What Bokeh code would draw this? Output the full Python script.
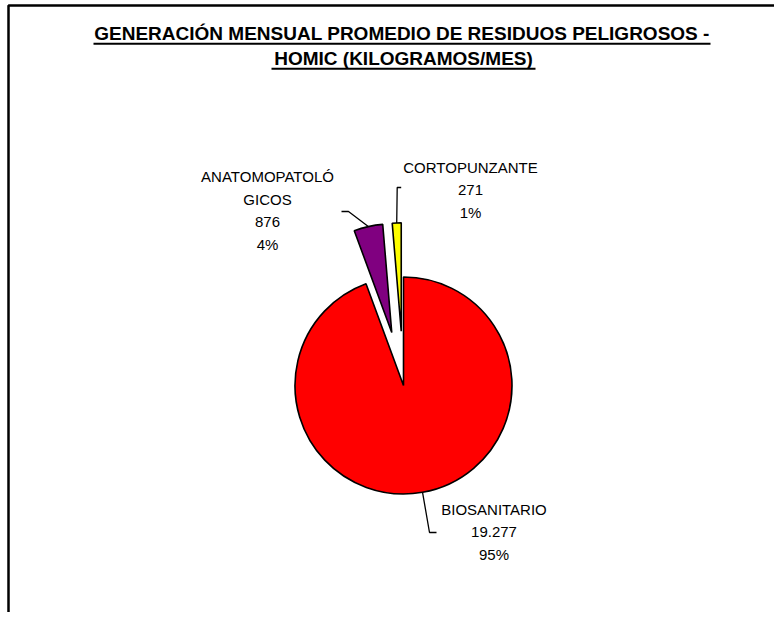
import math
from bokeh.plotting import figure
from bokeh.models import Range1d, ColumnDataSource
from bokeh.core.properties import value
from bokeh.embed import file_html
from bokeh.resources import INLINE

# ---------------- data ----------------
categories = ["BIOSANITARIO", "ANATOMOPATOLÓGICOS", "CORTOPUNZANTE"]
kg_per_month = [19277, 876, 271]
pct_labels = ["95%", "4%", "1%"]
name_lines = [["BIOSANITARIO"], ["ANATOMOPATOLÓ", "GICOS"], ["CORTOPUNZANTE"]]
title_lines = ["GENERACIÓN MENSUAL PROMEDIO DE RESIDUOS PELIGROSOS -",
               "HOMIC (KILOGRAMOS/MES)"]

# ---------------- style / layout ----------------
colors = ["#FF0000", "#800080", "#FFFF00"]
explode = [0.0, 0.5, 0.5]
W, H = 774, 612
ORIGIN = 0                 # where the canvas lands in the picture
CX, CY = 403, 385          # picture pixel position of pie centre
R = 108.5                  # pie radius in pixels
FONT = "Liberation Sans"
LINE_STEP = 22.5
BASE_FIX = 0.39            # text baseline correction (fraction of font size)
label_anchor = [(493.5, 515), (267, 182), (470, 172.5)]
label_elbow = [(429, 532), (348, 211), (396.7, 187)]
label_tail = [(436, 532), (341, 211), (400.7, 187)]
title_pos = [(401.5, 40.7, 617), (403, 65.7, 264)]   # centre x, baseline y, width
BORDER_X, BORDER_Y = 8, 5


def dx(px):
    return (px - CX) / R


def dy(py):
    return (CY - py) / R


p = figure(width=W, height=H, title=None,
           x_range=Range1d(dx(ORIGIN), dx(ORIGIN + W)),
           y_range=Range1d(dy(ORIGIN + H), dy(ORIGIN)),
           output_backend="svg", toolbar_location=None, min_border=0,
           x_axis_location=None, y_axis_location=None)
p.grid.visible = False
p.outline_line_color = None
p.background_fill_color = "white"
p.border_fill_color = "white"

# chart-area border (top & left; the box extends beyond the view)
p.line(x=[dx(BORDER_X), dx(BORDER_X), dx(ORIGIN + W + 10)],
       y=[dy(ORIGIN + H + 10), dy(BORDER_Y), dy(BORDER_Y)],
       line_color="black", line_width=2.5)

# ---------------- pie ----------------
total = sum(kg_per_month)
starts, ends, xs, ys, mids = [], [], [], [], []
cum = 0.0
for v, e in zip(kg_per_month, explode):
    f0 = cum / total
    cum += v
    f1 = cum / total
    a0 = math.pi / 2 - 2 * math.pi * f0
    a1 = math.pi / 2 - 2 * math.pi * f1
    am = (a0 + a1) / 2
    starts.append(a0)
    ends.append(a1)
    mids.append(am)
    xs.append(e * math.cos(am))
    ys.append(e * math.sin(am))

src = ColumnDataSource(dict(x=xs, y=ys, start=starts, end=ends, color=colors,
                            cat=categories, val=kg_per_month))
p.wedge(x="x", y="y", radius=1.0, start_angle="start", end_angle="end",
        direction="clock", fill_color="color", line_color="black",
        line_width=1.6, source=src)

# ---------------- leader lines ----------------
lx, ly = [], []
for i in range(len(categories)):
    ax = xs[i] + math.cos(mids[i])
    ay = ys[i] + math.sin(mids[i])
    lx.append([ax, dx(label_elbow[i][0]), dx(label_tail[i][0])])
    ly.append([ay, dy(label_elbow[i][1]), dy(label_tail[i][1])])
p.multi_line(xs=lx, ys=ly, line_color="black", line_width=1.3)

# ---------------- data labels ----------------
LBL = 15
tx, ty, tt = [], [], []
for i in range(len(categories)):
    lines = name_lines[i] + [f"{kg_per_month[i]:,}".replace(",", "."), pct_labels[i]]
    ax, ay = label_anchor[i]
    for j, s in enumerate(lines):
        tx.append(dx(ax))
        ty.append(dy(ay + j * LINE_STEP - BASE_FIX * LBL))
        tt.append(s)
p.text(x=tx, y=ty, text=tt, text_align="center", text_baseline="alphabetic",
       text_font=value(FONT), text_font_size=f"{LBL}px", text_color="#000000")

# ---------------- title ----------------
TTL = 19
for (cxp, byp, wp), s in zip(title_pos, title_lines):
    p.text(x=[dx(cxp)], y=[dy(byp - BASE_FIX * TTL)], text=[s], text_align="center",
           text_baseline="alphabetic", text_font=value(FONT),
           text_font_size=f"{TTL}px", text_font_style="bold", text_color="#000000")
    p.segment(x0=[dx(cxp - wp / 2)], y0=[dy(byp + 2.5)],
              x1=[dx(cxp + wp / 2)], y1=[dy(byp + 2.5)],
              line_color="black", line_width=2)

open("out.html", "w").write(file_html(p, INLINE))
